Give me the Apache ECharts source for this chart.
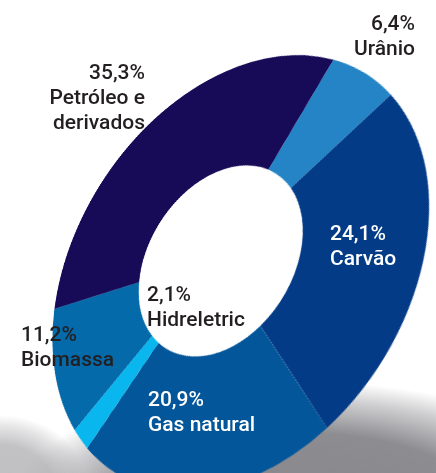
<!DOCTYPE html>
<html>
<head>
<meta charset="utf-8">
<script src="https://cdn.jsdelivr.net/npm/echarts@6/dist/echarts.min.js"></script>
<style>
  html, body { margin: 0; padding: 0; background: #fff; overflow: hidden; }
  #stage { position: relative; width: 436px; height: 473px; overflow: hidden; }
  #bg, #labels { position: absolute; left: 0; top: 0; width: 436px; height: 473px; }
  /* the donut is drawn flat, then tilted like the printed figure */
  #donut {
    position: absolute; width: 600px; height: 600px;
    left: -84px; top: -42px;
    transform: perspective(950px) rotateZ(32deg) rotateY(-46deg);
  }
</style>
</head>
<body>
<div id="stage">
  <div id="bg"></div>
  <div id="donut"></div>
  <div id="labels"></div>
</div>
<script>
var names = ['Urânio', 'Carvão', 'Gas natural', 'Hidreletric', 'Biomassa', 'Petróleo e derivados'];
var values = [6.4, 24.1, 20.9, 2.1, 11.2, 35.3];
var colors = ['#2484c6', '#043b87', '#04569a', '#0ab6ee', '#046aaa', '#170a57'];

// label layout: x, y of first line, align, text colour
var labelPos = [
  [415, 12, 'right', '#231f20'],
  [330, 222, 'left', '#ffffff'],
  [148, 388, 'left', '#ffffff'],
  [147, 283, 'left', '#231f20'],
  [21, 323, 'left', '#231f20'],
  [145, 61, 'right', '#231f20']
];

function softBlob(x, y, sx, sy, rgb, a) {
  return {
    type: 'circle',
    shape: { cx: 0, cy: 0, r: 150 },
    x: x, y: y, scaleX: sx, scaleY: sy,
    silent: true,
    style: {
      fill: new echarts.graphic.RadialGradient(0.5, 0.5, 0.5, [
        { offset: 0, color: 'rgba(' + rgb + ',' + a + ')' },
        { offset: 0.6, color: 'rgba(' + rgb + ',' + (a * 0.95) + ')' },
        { offset: 0.85, color: 'rgba(' + rgb + ',' + (a * 0.4) + ')' },
        { offset: 1, color: 'rgba(' + rgb + ',0)' }
      ])
    }
  };
}

// background: soft floor shadow below the ring
var bgChart = echarts.init(document.getElementById('bg'), null, { renderer: 'canvas' });
bgChart.setOption({
  animation: false,
  graphic: [
    softBlob(305, 512, 2.0, 0.87, '134,134,139', 1),
    softBlob(0, 490, 0.6, 0.5, '175,175,178', 0.8)
  ]
});

var pieData = names.map(function (n, i) {
  return { name: n, value: values[i], itemStyle: { color: colors[i] } };
});

var donut = echarts.init(document.getElementById('donut'), null, { renderer: 'canvas' });
donut.setOption({
  animation: false,
  series: [{
    type: 'pie',
    center: ['50%', '50%'],
    radius: [103, 232],
    startAngle: 92,
    clockwise: true,
    silent: true,
    label: { show: false },
    labelLine: { show: false },
    itemStyle: { borderWidth: 0 },
    data: pieData
  }]
});

function fmt(v) {
  return v.toFixed(1).replace('.', ',') + '%';
}

var texts = names.map(function (n, i) {
  var p = labelPos[i];
  return {
    type: 'text',
    x: p[0], y: p[1],
    silent: true,
    style: {
      text: fmt(values[i]) + '\n' + n.replace(' derivados', '\nderivados'),
      fill: p[3],
      align: p[2],
      verticalAlign: 'top',
      font: '500 21px Roboto',
      lineHeight: 25
    }
  };
});

var labelChart = echarts.init(document.getElementById('labels'), null, { renderer: 'canvas' });
labelChart.setOption({
  animation: false,
  graphic: texts
});
</script>
</body>
</html>
